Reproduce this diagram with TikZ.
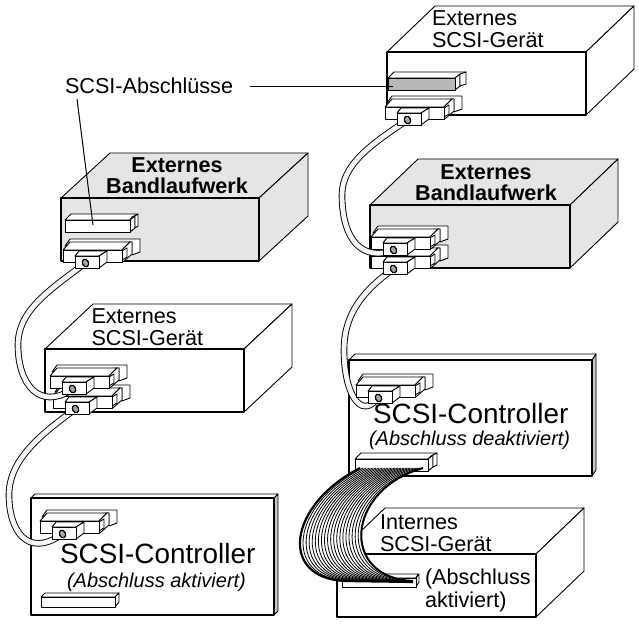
\documentclass[tikz,border=0pt]{standalone}
\usepackage{fontspec}
\setmainfont{Liberation Sans}
\tikzset{
  edge/.style={draw=black,line width=0.9pt,line join=round},
  lbl/.style={anchor=base west,inner sep=0pt,outer sep=0pt,font=\fontsize{21.6}{24}\selectfont},
  blbl/.style={anchor=base,inner sep=0pt,outer sep=0pt,font=\fontsize{21.6}{24}\selectfont\bfseries},
  biglbl/.style={anchor=base west,inner sep=0pt,outer sep=0pt,font=\fontsize{27.9}{30}\selectfont},
  itlbl/.style={anchor=base west,inner sep=0pt,outer sep=0pt,font=\fontsize{20}{24}\selectfont\itshape},
  cable/.style={draw=black,line width=0.9pt,double=black!4,double distance=4.8pt},
  leader/.style={draw=black,line width=1pt},
}
\definecolor{bandgray}{gray}{0.90}
\definecolor{sidegray}{gray}{0.78}
\definecolor{termgray}{gray}{0.72}
% box: front x0,y0,x1,y1 ; depth dx,dy ; fill
\newcommand{\quader}[7]{%
  \fill[#7] (#1,#2) rectangle (#3,#4);
  \draw[edge,fill=#7] (#1,#2)--++(#5,-#6)--++(#3-#1,0)--(#3,#2)--cycle;
  \draw[edge,fill=#7] (#3,#2)--++(#5,-#6)--++(0,#4-#2)--(#3,#4)--cycle;
  \draw[edge,line width=1.05pt] (#1,#4)--(#1,#2)--(#3,#2)--(#3,#4)--cycle;
}
% controller board: x0,y0,x1,y1, corner offset on the left
\newcommand{\platine}[5]{%
  \draw[edge,fill=sidegray] (#3,#2)--++(4,-#5)--++(0,#4-#2)--(#3,#4)--cycle;
  \draw[edge,fill=white] (#1,#2)--(#1+#5,#2-#5)--(#3+4,#2-#5)--(#3,#2)--cycle;
  \draw[edge,line width=1.05pt,fill=white] (#1,#2) rectangle (#3,#4);
}
% D-sub connector with its plate at (x,y)
\newcommand{\stecker}[2]{%
  \begin{scope}[shift={(#1,#2)}]
    \draw[edge,fill=white] (2,-4)--(7,-11)--(77,-11)--(77,2)--(69,5)--(69,-8)--cycle;
    \draw[edge,fill=white] (0,0)--(7,-8)--(67,-8)--(59,0)--cycle;
    \draw[edge,fill=white] (59,0)--(67,-8)--(69,-8)--(69,4)--(61,11)--(59,12)--cycle;
    \draw[edge,fill=white] (59,1)--(64,-2)--(64,7)--(59,10)--cycle;
    \draw[edge,fill=white] (0,0) rectangle (59,12);
    \draw[edge,fill=white] (12,6)--(16,1)--(44,1)--(36,6)--cycle;
    \draw[edge,fill=white] (36,6)--(44,1)--(44,12)--(36,18)--cycle;
    \draw[edge,fill=white] (12,6) rectangle (36,18);
    \draw[draw=black,line width=1.2pt,fill=black!35,rotate around={25:(22.5,13)}] (22.5,13) ellipse (3 and 4);
  \end{scope}
}
% terminator bar
\newcommand{\abschluss}[5]{%
  \begin{scope}[shift={(#1,#2)}]
    \draw[edge,fill=white] (0,0)--(6,-6)--(#3+6+#5,-6)--(#3+#5,-3)--(#3,0)--cycle;
    \draw[edge,fill=white] (#3,0)--(#3+5,-4)--(#3+5,8)--(#3,12)--cycle;
    \draw[edge,fill=white] (#3+5,-4)--(#3+6+#5,-6)--(#3+6+#5,6)--(#3+5,8)--cycle;
    \draw[edge,fill=#4] (0,0) rectangle (#3,12);
  \end{scope}
}
\begin{document}
\begin{tikzpicture}[x=1pt,y=-1pt]
\useasboundingbox (0,0) rectangle (639,626);
\fill[white] (0,0) rectangle (639,626);
% named cable ends
\coordinate (topdev) at (406,121);
\coordinate (rbandU) at (392,251);
\coordinate (rbandL) at (392,270);
\coordinate (rctrl) at (377,399);
\coordinate (lbandC) at (84,264);
\coordinate (ldevU) at (71,390);
\coordinate (ldevL) at (74,410);
\coordinate (lctrl) at (61,535);
% boxes
\quader{387}{52}{586}{115}{48}{46}{white}
\quader{370}{205}{570}{268}{48}{46}{bandgray}
\quader{61}{198}{259}{261}{49}{45}{bandgray}
\quader{45}{349}{244}{412}{48}{45}{white}
\quader{337}{554}{536}{617}{48}{46}{white}
\platine{31}{498}{274}{615}{4}
\platine{349}{360}{592}{476}{6}
% labels
\node[lbl] (t1a) at (432,26) {Externes};
\node[lbl] (t1b) at (432,48) {SCSI-Gerät};
\node[blbl] (t2a) at (486,179) {Externes};
\node[blbl] (t2b) at (486,200) {Bandlaufwerk};
\node[blbl] (t3a) at (177,172) {Externes};
\node[blbl] (t3b) at (177,193) {Bandlaufwerk};
\node[lbl] (t4a) at (91.5,323) {Externes};
\node[lbl] (t4b) at (91.5,345) {SCSI-Gerät};
\node[biglbl] (t5a) at (60,563) {SCSI-Controller};
\node[itlbl] (t5b) at (67,587) {(Abschluss aktiviert)};
\node[biglbl] (t6a) at (373,423) {SCSI-Controller};
\node[itlbl] (t6b) at (369,445) {(Abschluss deaktiviert)};
\node[lbl] (t7a) at (380,529) {Internes};
\node[lbl] (t7b) at (380,551) {SCSI-Gerät};
\node[lbl] (t8a) at (425,584) {(Abschluss};
\node[lbl] (t8b) at (425,607) {aktiviert)};
\node[lbl] (term) at (65,93) {SCSI-Abschlüsse};
% terminators
\abschluss{388}{78}{67}{termgray}{5}
\abschluss{65}{220}{65}{white}{2}
\abschluss{355}{459}{73}{white}{3}
\draw[edge,fill=white] (41,597)--(45,593)--(119,593)--(115,597)--cycle;
\draw[edge,fill=white] (115,597)--(119,593)--(119,602)--(115,607)--cycle;
\draw[edge,fill=white] (41,597) rectangle (115,607);
\draw[edge,fill=white] (342,578)--(348,574)--(418,574)--(416,578)--cycle;
\draw[edge,fill=white] (416,578)--(419,574)--(419,582)--(416,587)--cycle;
\draw[edge,fill=white] (342,578) rectangle (416,587);
% leaders
\coordinate (termA) at (393,86);
\coordinate (termB) at (93,225);
\coordinate (termC) at (250,86);
\coordinate (termD) at (77,99);
\draw[leader] (termC)--(termA);
\draw[leader] (termD)--(termB);
% connectors and cables
\draw[cable] (rbandL) .. controls (357,295) and (344,320) .. (344,350) .. controls (344,392) and (360,420) .. (rctrl);
\stecker{371}{256}
\draw[cable] (topdev) .. controls (370,145) and (342,165) .. (342,195) .. controls (342,230) and (355,262) .. (rbandU);
\stecker{385}{107}
\stecker{371}{237}
\stecker{356}{385}
\draw[cable] (ldevL) .. controls (40,435) and (9,460) .. (9,495) .. controls (9,530) and (27,558) .. (lctrl);
\stecker{53}{396}
\draw[cable] (lbandC) .. controls (50,290) and (18,310) .. (18,345) .. controls (18,385) and (40,410) .. (ldevU);
\stecker{63}{250}
\stecker{50}{376}
\stecker{40}{521}
% ribbon
\fill[white] (360,468) .. controls (288,505) and (278,578) .. (345,581) -- (413,581) .. controls (340,578) and (345,490) .. (423,468) -- cycle;
\foreach \i in {0,...,20}{
  \pgfmathsetmacro{\f}{\i/20}
  \pgfmathsetmacro{\ax}{360+63*\f}
  \pgfmathsetmacro{\bx}{288+57*\f}
  \pgfmathsetmacro{\by}{505-15*\f}
  \pgfmathsetmacro{\cx}{278+62*\f}
  \pgfmathsetmacro{\dx}{345+68*\f}
  \draw[black,line width=0.8pt] (\ax,468) .. controls (\bx,\by) and (\cx,578) .. (\dx,581);
}
\draw[black,line width=2.2pt] (360,468) .. controls (288,505) and (278,578) .. (345,581) -- (413,582);
\draw[black,line width=2pt] (423,468) .. controls (345,490) and (340,578) .. (413,581);
\end{tikzpicture}
\end{document}
